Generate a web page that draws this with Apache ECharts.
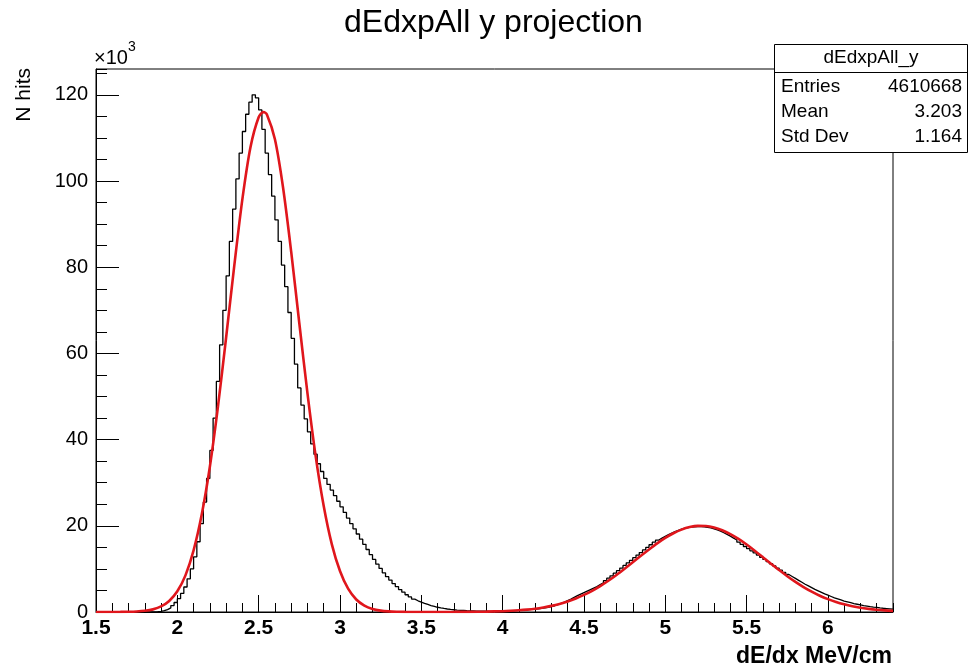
<!DOCTYPE html>
<html><head><meta charset="utf-8">
<script src="https://cdn.jsdelivr.net/npm/echarts@6/dist/echarts.min.js"></script>
<style>html,body{margin:0;padding:0;background:#fff}#c{width:970px;height:669px}</style>
</head><body><div id="c"></div>
<script>
const FONT = "'Liberation Sans', Arial, Helvetica, sans-serif";
const chartTitle = 'dEdxpAll y projection';
const xAxisTitle = 'dE/dx MeV/cm';
const yAxisTitle = 'N hits';
const yScaleLabel = '×10';
const yScaleExp = '3';
const xRange = [1.5, 6.4];
const yRange = [0, 126];
const statsName = 'dEdxpAll_y';
const statsLabels = ['Entries', 'Mean', 'Std Dev'];
const statsValues = ['4610668', '3.203', '1.164'];

// histogram: first bin low edge, bin width, counts (thousands)
const histLow = 1.5;
const histBinWidth = 0.02;
const histCounts = [
  0,0,0,0,0,0,0,0,0,0,
  0,0,0,0,0,0,0,0.03,0.07,0.15,
  0.3,0.55,0.95,1.5,2.2,3.1,4.3,5.8,7.7,10,
  12.8,16.3,20.5,25.5,31,37.5,45,53.5,62,70,
  78,86,93.5,100.5,106.5,111.5,115.5,118.3,120,119.3,
  116.5,112,106.5,101.5,96.5,91,86,80.5,75.5,69.5,
  63.5,57.5,52,48,44.8,41.8,39,36.6,34.4,32.6,
  31,29.6,28.3,27,25.7,24.4,23.1,21.8,20.5,19.3,
  18.1,16.9,15.7,14.5,13.3,12.2,11.1,10.1,9.1,8.2,
  7.4,6.6,5.9,5.2,4.6,4.0,3.5,3.0,2.6,2.3,
  2.0,1.75,1.5,1.3,1.1,0.95,0.82,0.7,0.6,0.52,
  0.45,0.4,0.35,0.3,0.28,0.25,0.22,0.2,0.18,0.17,
  0.16,0.16,0.17,0.18,0.2,0.22,0.25,0.28,0.32,0.37,
  0.43,0.5,0.56,0.62,0.68,0.75,0.85,0.97,1.1,1.25,
  1.45,1.7,2.0,2.3,2.65,3.0,3.4,3.8,4.15,4.5,
  4.85,5.2,5.55,5.9,6.35,6.8,7.3,7.85,8.4,9.0,
  9.6,10.2,10.8,11.4,12.0,12.6,13.2,13.8,14.4,15.0,
  15.6,16.2,16.7,17.15,17.55,17.95,18.3,18.65,18.95,19.25,
  19.45,19.6,19.7,19.75,19.8,19.8,19.75,19.65,19.5,19.3,
  19.05,18.75,18.4,18.0,17.6,17.15,16.7,16.2,15.7,15.2,
  14.7,14.2,13.7,13.2,12.7,12.2,11.7,11.2,10.7,10.2,
  9.7,9.2,8.7,8.25,7.8,7.35,6.9,6.45,6.05,5.65,
  5.25,4.9,4.55,4.2,3.9,3.6,3.3,3.05,2.8,2.55,
  2.35,2.15,1.95,1.8,1.65,1.5,1.38,1.26,1.15,1.05,
  0.95,0.87,0.8,0.73,0.66
];

// fit curve (thousands)
const fitX = [1.50,1.55,1.60,1.65,1.70,1.75,1.80,1.85,1.90,1.95,
  2.00,2.05,2.10,2.15,2.20,2.25,2.30,2.35,2.40,2.45,
  2.50,2.53,2.55,2.60,2.65,2.70,2.75,2.80,2.85,2.90,
  2.95,3.00,3.05,3.10,3.15,3.20,3.25,3.30,3.35,3.40,
  3.50,3.60,3.70,3.80,3.90,4.00,4.05,4.10,4.15,4.20,
  4.25,4.30,4.35,4.40,4.45,4.50,4.55,4.60,4.65,4.70,
  4.75,4.80,4.85,4.90,4.95,5.00,5.05,5.10,5.15,5.20,
  5.25,5.30,5.35,5.40,5.45,5.50,5.55,5.60,5.65,5.70,
  5.75,5.80,5.85,5.90,5.95,6.00,6.05,6.10,6.15,6.20,
  6.25,6.30,6.35,6.40];
const fitY = [0,0,0.01,0.02,0.05,0.12,0.28,0.61,1.29,2.56,
  4.8,8.5,14.3,22.6,33.7,47.7,63.7,80.3,95.8,107.9,
  114.8,116.0,115.5,109.7,98.5,83.6,67.0,50.8,36.3,24.6,
  15.7,9.5,5.4,2.9,1.49,0.71,0.32,0.14,0.06,0.02,
  0.01,0.01,0.02,0.04,0.09,0.19,0.28,0.40,0.56,0.77,
  1.06,1.42,1.88,2.45,3.14,3.96,4.92,6.02,7.25,8.59,
  10.03,11.52,13.04,14.52,15.93,17.19,18.27,19.12,19.70,19.98,
  19.94,19.60,18.97,18.07,16.95,15.65,14.23,12.73,11.22,9.73,
  8.31,6.99,5.79,4.72,3.78,2.99,2.32,1.78,1.34,0.99,
  0.73,0.52,0.37,0.26];

const histData = [];
histCounts.forEach((v, i) => histData.push([+(histLow + i * histBinWidth).toFixed(4), v]));
histData.push([+(histLow + histCounts.length * histBinWidth).toFixed(4), histCounts[histCounts.length - 1]]);
const fitData = fitX.map((x, i) => [x, fitY[i]]);

const chart = echarts.init(document.getElementById('c'), null, {renderer: 'canvas'});
const black = '#000';
chart.setOption({
  animation: false,
  backgroundColor: '#fff',
  title: {text: chartTitle, left: 339, top: 2,
    textStyle: {fontFamily: FONT, fontSize: 32, fontWeight: 'normal', color: black}},
  grid: {left: 96, right: 77, top: 69, bottom: 57, show: true, borderColor: black, borderWidth: 1, containLabel: false},
  xAxis: [
    {type: 'value', min: xRange[0], max: xRange[1], interval: 0.5,
     axisLine: {show: true, lineStyle: {color: black, width: 1}},
     axisTick: {show: true, inside: true, length: 17, lineStyle: {color: black, width: 1}},
     axisLabel: {fontFamily: FONT, fontSize: 21, fontWeight: 'bold', color: black, margin: 6, showMaxLabel: false},
     splitLine: {show: false}},
    {type: 'value', min: xRange[0], max: xRange[1], interval: 0.1, position: 'bottom',
     axisLine: {show: false},
     axisTick: {show: true, inside: true, length: 9, lineStyle: {color: black, width: 1}},
     axisLabel: {show: false}, splitLine: {show: false}}
  ],
  yAxis: [
    {type: 'value', min: yRange[0], max: yRange[1], interval: 20,
     axisLine: {show: true, lineStyle: {color: black, width: 1}},
     axisTick: {show: true, inside: true, length: 23, lineStyle: {color: black, width: 1}},
     axisLabel: {fontFamily: FONT, fontSize: 20, color: black, margin: 8, showMaxLabel: false},
     splitLine: {show: false}},
    {type: 'value', min: yRange[0], max: yRange[1], interval: 5, position: 'left', offset: 0,
     axisLine: {show: false},
     axisTick: {show: true, inside: true, length: 11, lineStyle: {color: black, width: 1}},
     axisLabel: {show: false}, splitLine: {show: false}}
  ],
  series: [
    {type: 'line', name: 'hist', xAxisIndex: 0, yAxisIndex: 0, data: histData, step: 'end',
     symbol: 'none', lineStyle: {color: black, width: 1.3}, z: 2, silent: true},
    {type: 'line', name: 'fit', xAxisIndex: 0, yAxisIndex: 0, data: fitData, smooth: 0.3,
     symbol: 'none', lineStyle: {color: '#e0161c', width: 2.6}, z: 3, silent: true}
  ],
  graphic: [
    {type: 'text', x: 94, y: 58, z: 10,
     style: {text: yScaleLabel, fontFamily: FONT, fontSize: 20, fill: black, align: 'left', verticalAlign: 'middle'}},
    {type: 'text', x: 128, y: 47, z: 10,
     style: {text: yScaleExp, fontFamily: FONT, fontSize: 14, fill: black, align: 'left', verticalAlign: 'middle'}},
    {type: 'text', x: 24, y: 68, rotation: Math.PI / 2, z: 10,
     style: {text: yAxisTitle, fontFamily: FONT, fontSize: 21, fill: black, align: 'right', verticalAlign: 'middle'}},
    {type: 'text', x: 892, y: 657, z: 10,
     style: {text: xAxisTitle, fontFamily: FONT, fontSize: 23, fontWeight: 'bold', fill: black, align: 'right', verticalAlign: 'middle'}},
    {type: 'rect', shape: {x: 774.5, y: 44.5, width: 193, height: 108}, z: 20,
     style: {fill: '#fff', stroke: black, lineWidth: 1}},
    {type: 'line', shape: {x1: 774.5, y1: 72.5, x2: 967.5, y2: 72.5}, z: 21,
     style: {stroke: black, lineWidth: 1}},
    {type: 'text', x: 871, y: 58, z: 22,
     style: {text: statsName, fontFamily: FONT, fontSize: 19, fill: black, align: 'center', verticalAlign: 'middle'}},
    ...statsLabels.map((t, i) => ({type: 'text', x: 781, y: 87 + 25 * i, z: 22,
     style: {text: t, fontFamily: FONT, fontSize: 19, fill: black, align: 'left', verticalAlign: 'middle'}})),
    ...statsValues.map((t, i) => ({type: 'text', x: 962, y: 87 + 25 * i, z: 22,
     style: {text: t, fontFamily: FONT, fontSize: 19, fill: black, align: 'right', verticalAlign: 'middle'}}))
  ]
});
</script></body></html>
